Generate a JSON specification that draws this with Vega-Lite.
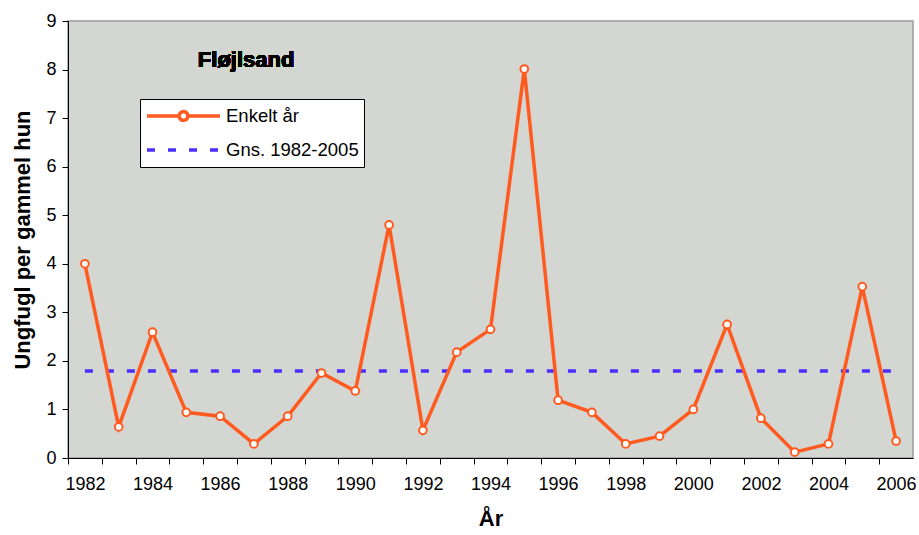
{
  "$schema": "https://vega.github.io/schema/vega-lite/v6.json",
  "width": 845,
  "height": 437,
  "autosize": {"type": "none"},
  "padding": {"left": 68, "top": 21, "right": 6, "bottom": 77},
  "background": "white",
  "config": {
    "font": "Liberation Sans",
    "view": {"fill": "#D4D6D1", "stroke": "#9A9A9A", "strokeWidth": 1.5},
    "axis": {"grid": false, "domainColor": "black", "tickColor": "black", "labelColor": "black", "titleColor": "black", "labelFont": "Liberation Sans", "titleFont": "Liberation Sans"}
  },
  "data": {
    "values": [
      {"year": 1982, "value": 4.0, "series": "Enkelt år"},
      {"year": 1983, "value": 0.64, "series": "Enkelt år"},
      {"year": 1984, "value": 2.59, "series": "Enkelt år"},
      {"year": 1985, "value": 0.94, "series": "Enkelt år"},
      {"year": 1986, "value": 0.86, "series": "Enkelt år"},
      {"year": 1987, "value": 0.29, "series": "Enkelt år"},
      {"year": 1988, "value": 0.86, "series": "Enkelt år"},
      {"year": 1989, "value": 1.75, "series": "Enkelt år"},
      {"year": 1990, "value": 1.38, "series": "Enkelt år"},
      {"year": 1991, "value": 4.8, "series": "Enkelt år"},
      {"year": 1992, "value": 0.57, "series": "Enkelt år"},
      {"year": 1993, "value": 2.18, "series": "Enkelt år"},
      {"year": 1994, "value": 2.65, "series": "Enkelt år"},
      {"year": 1995, "value": 8.01, "series": "Enkelt år"},
      {"year": 1996, "value": 1.19, "series": "Enkelt år"},
      {"year": 1997, "value": 0.94, "series": "Enkelt år"},
      {"year": 1998, "value": 0.29, "series": "Enkelt år"},
      {"year": 1999, "value": 0.45, "series": "Enkelt år"},
      {"year": 2000, "value": 1.0, "series": "Enkelt år"},
      {"year": 2001, "value": 2.75, "series": "Enkelt år"},
      {"year": 2002, "value": 0.82, "series": "Enkelt år"},
      {"year": 2003, "value": 0.12, "series": "Enkelt år"},
      {"year": 2004, "value": 0.29, "series": "Enkelt år"},
      {"year": 2005, "value": 3.53, "series": "Enkelt år"},
      {"year": 2006, "value": 0.35, "series": "Enkelt år"},
      {"year": 1982, "value": 1.79, "series": "Gns. 1982-2005"},
      {"year": 2006, "value": 1.79, "series": "Gns. 1982-2005"}
    ]
  },
  "encoding": {
    "x": {
      "field": "year",
      "type": "quantitative",
      "scale": {"domain": [1981.5, 2006.5], "nice": false, "zero": false},
      "axis": {
        "values": [1982,1983,1984,1985,1986,1987,1988,1989,1990,1991,1992,1993,1994,1995,1996,1997,1998,1999,2000,2001,2002,2003,2004,2005,2006,2007],
        "tickOffset": -16.9,
        "labelOffset": 16.9,
        "labelExpr": "(datum.value % 2 == 0 && datum.value < 2007) ? toString(datum.value) : ''",
        "labelFlush": false,
        "labelOverlap": false,
        "labelFontSize": 18,
        "labelPadding": 11,
        "tickSize": 6,
        "title": "År",
        "titleFontSize": 22,
        "titleFontWeight": "bold",
        "titlePadding": 15
      }
    },
    "y": {
      "field": "value",
      "type": "quantitative",
      "scale": {"domain": [0, 9], "nice": false},
      "axis": {
        "values": [0,1,2,3,4,5,6,7,8,9],
        "labelFontSize": 18,
        "labelPadding": 6,
        "tickSize": 6,
        "title": "Ungfugl per gammel hun",
        "titleFontSize": 22,
        "titleFontWeight": "bold",
        "titlePadding": 11
      }
    }
  },
  "layer": [
    {
      "transform": [{"filter": "datum.series === 'Gns. 1982-2005'"}],
      "mark": {"type": "line", "strokeWidth": 3.5, "strokeDash": [8, 13]},
      "encoding": {
        "stroke": {
          "field": "series",
          "type": "nominal",
          "scale": {"domain": ["Enkelt år", "Gns. 1982-2005"], "range": ["#FF5A1F", "#4A2EFF"]},
          "legend": {
            "title": null,
            "orient": "none",
            "legendX": 72,
            "legendY": 78,
            "padding": 5,
            "fillColor": "white",
            "strokeColor": "black",
            "symbolSize": 5329,
            "symbolStrokeWidth": 3.5,
            "clipHeight": 24,
            "rowPadding": 10,
            "labelOffset": 4,
            "labelFontSize": 18.5,
            "labelColor": "black",
            "labelFont": "Liberation Sans",
            "encode": {
              "symbols": {
                "update": {
                  "shape": {"signal": "datum.value === 'Enkelt år' ? 'M-1,0L-0.12,0M0.12,0L1,0M-0.12,0A0.12,0.12,0,1,0,0.12,0A0.12,0.12,0,1,0,-0.12,0Z' : 'M-1,0L1,0'"},
                  "fill": {"value": "white"},
                  "fillOpacity": {"value": 1},
                  "opacity": {"value": 1},
                  "strokeDash": {"signal": "datum.value === 'Enkelt år' ? [1, 0] : [8, 13]"}
                }
              }
            }
          }
        }
      }
    },
    {
      "transform": [{"filter": "datum.series === 'Enkelt år'"}],
      "mark": {"type": "line", "strokeWidth": 3.5},
      "encoding": {
        "stroke": {"field": "series", "type": "nominal"}
      }
    },
    {
      "transform": [{"filter": "datum.series === 'Enkelt år'"}],
      "mark": {"type": "point", "filled": true, "fill": "white", "stroke": "#FF5A1F", "strokeWidth": 2, "size": 60, "opacity": 1}
    },
    {
      "mark": {"type": "text", "fontSize": 22, "fontWeight": "bold", "font": "Liberation Sans", "align": "center", "baseline": "middle", "fill": "black", "strokeWidth": 0},
      "encoding": {
        "x": {"datum": 1986.77},
        "y": {"datum": 8.2},
        "text": {"value": "Fløjlsand"}
      }
    }
  ]
}
